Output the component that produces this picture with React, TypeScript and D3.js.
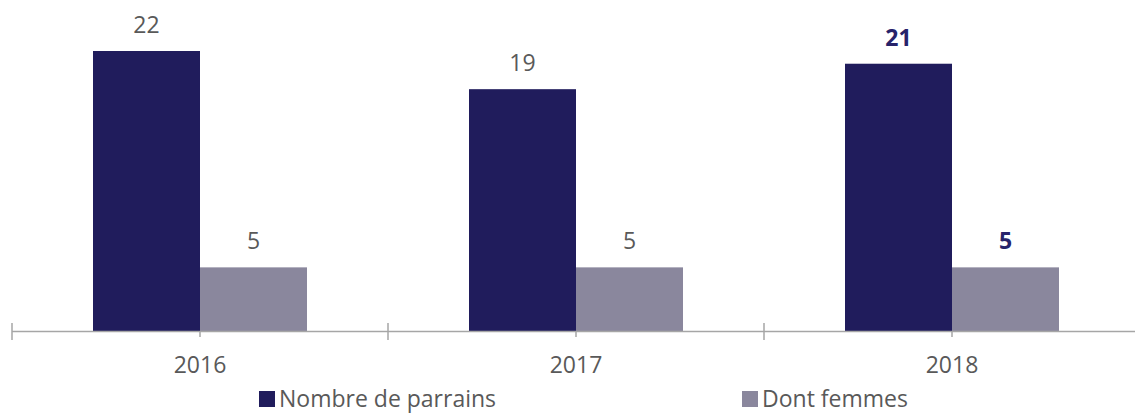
import React from "react";
import * as d3 from "d3";

const years = ["2016", "2017", "2018"];
const seriesNames = ["Nombre de parrains", "Dont femmes"];
const parrains = [22, 19, 21];
const femmes = [5, 5, 5];

const W = 1135;
const H = 413;
const colors = ["#201c5c", "#8a879d"];
const textColor = "#595959";
const axisColor = "#a6a6a6";
const font = "'Open Sans', sans-serif";
const fs = 23;

export default function App() {
  const x = d3.scaleBand<string>().domain(years).range([12, 1140]).padding(0);
  const inner = d3
    .scaleBand<string>()
    .domain(seriesNames)
    .range([0, x.bandwidth()])
    .paddingOuter(0.757)
    .paddingInner(0);
  const y = d3.scaleLinear().domain([0, 22]).range([331, 51]);
  const series = [parrains, femmes];
  const axisY = 331.5;

  return (
    <svg
      width={W}
      height={H}
      style={{ position: "absolute", left: 0, top: 0, display: "block" }}
    >
      <rect width={W} height={H} fill="#fff" />
      {years.map((yr, i) =>
        seriesNames.map((s, j) => {
          const v = series[j][i];
          const bx = (x(yr) ?? 0) + (inner(s) ?? 0);
          const bw = inner.bandwidth();
          const bold = i === 2;
          return (
            <g key={yr + s}>
              <rect x={bx} y={y(v)} width={bw} height={y(0) - y(v)} fill={colors[j]} />
              <text
                x={bx + bw / 2}
                y={y(v) - 18}
                textAnchor="middle"
                fontFamily={font}
                fontSize={fs}
                fontWeight={bold ? 700 : 400}
                fill={bold ? "#27236a" : textColor}
              >
                {v}
              </text>
            </g>
          );
        })
      )}
      <line x1={12} x2={W} y1={axisY} y2={axisY} stroke={axisColor} strokeWidth={1.5} />
      {[...years.map((yr) => x(yr) ?? 0), 1140].map((tx, i) => (
        <line key={"t" + i} x1={tx} x2={tx} y1={323} y2={340} stroke={axisColor} strokeWidth={1.5} />
      ))}
      {years.map((yr) => {
        const cx = (x(yr) ?? 0) + x.bandwidth() / 2;
        return (
          <g key={"l" + yr}>
            <line x1={cx} x2={cx} y1={axisY} y2={337} stroke={axisColor} strokeWidth={1.5} />
            <text
              x={cx}
              y={373}
              textAnchor="middle"
              fontFamily={font}
              fontSize={fs}
              fill={textColor}
            >
              {yr}
            </text>
          </g>
        );
      })}
      {seriesNames.map((s, j) => {
        const lx = j === 0 ? 259 : 742;
        return (
          <g key={"lg" + s}>
            <rect x={lx} y={391} width={16} height={16} fill={colors[j]} />
            <text x={lx + 20} y={406.5} fontFamily={font} fontSize={fs} fill={textColor}>
              {s}
            </text>
          </g>
        );
      })}
    </svg>
  );
}
